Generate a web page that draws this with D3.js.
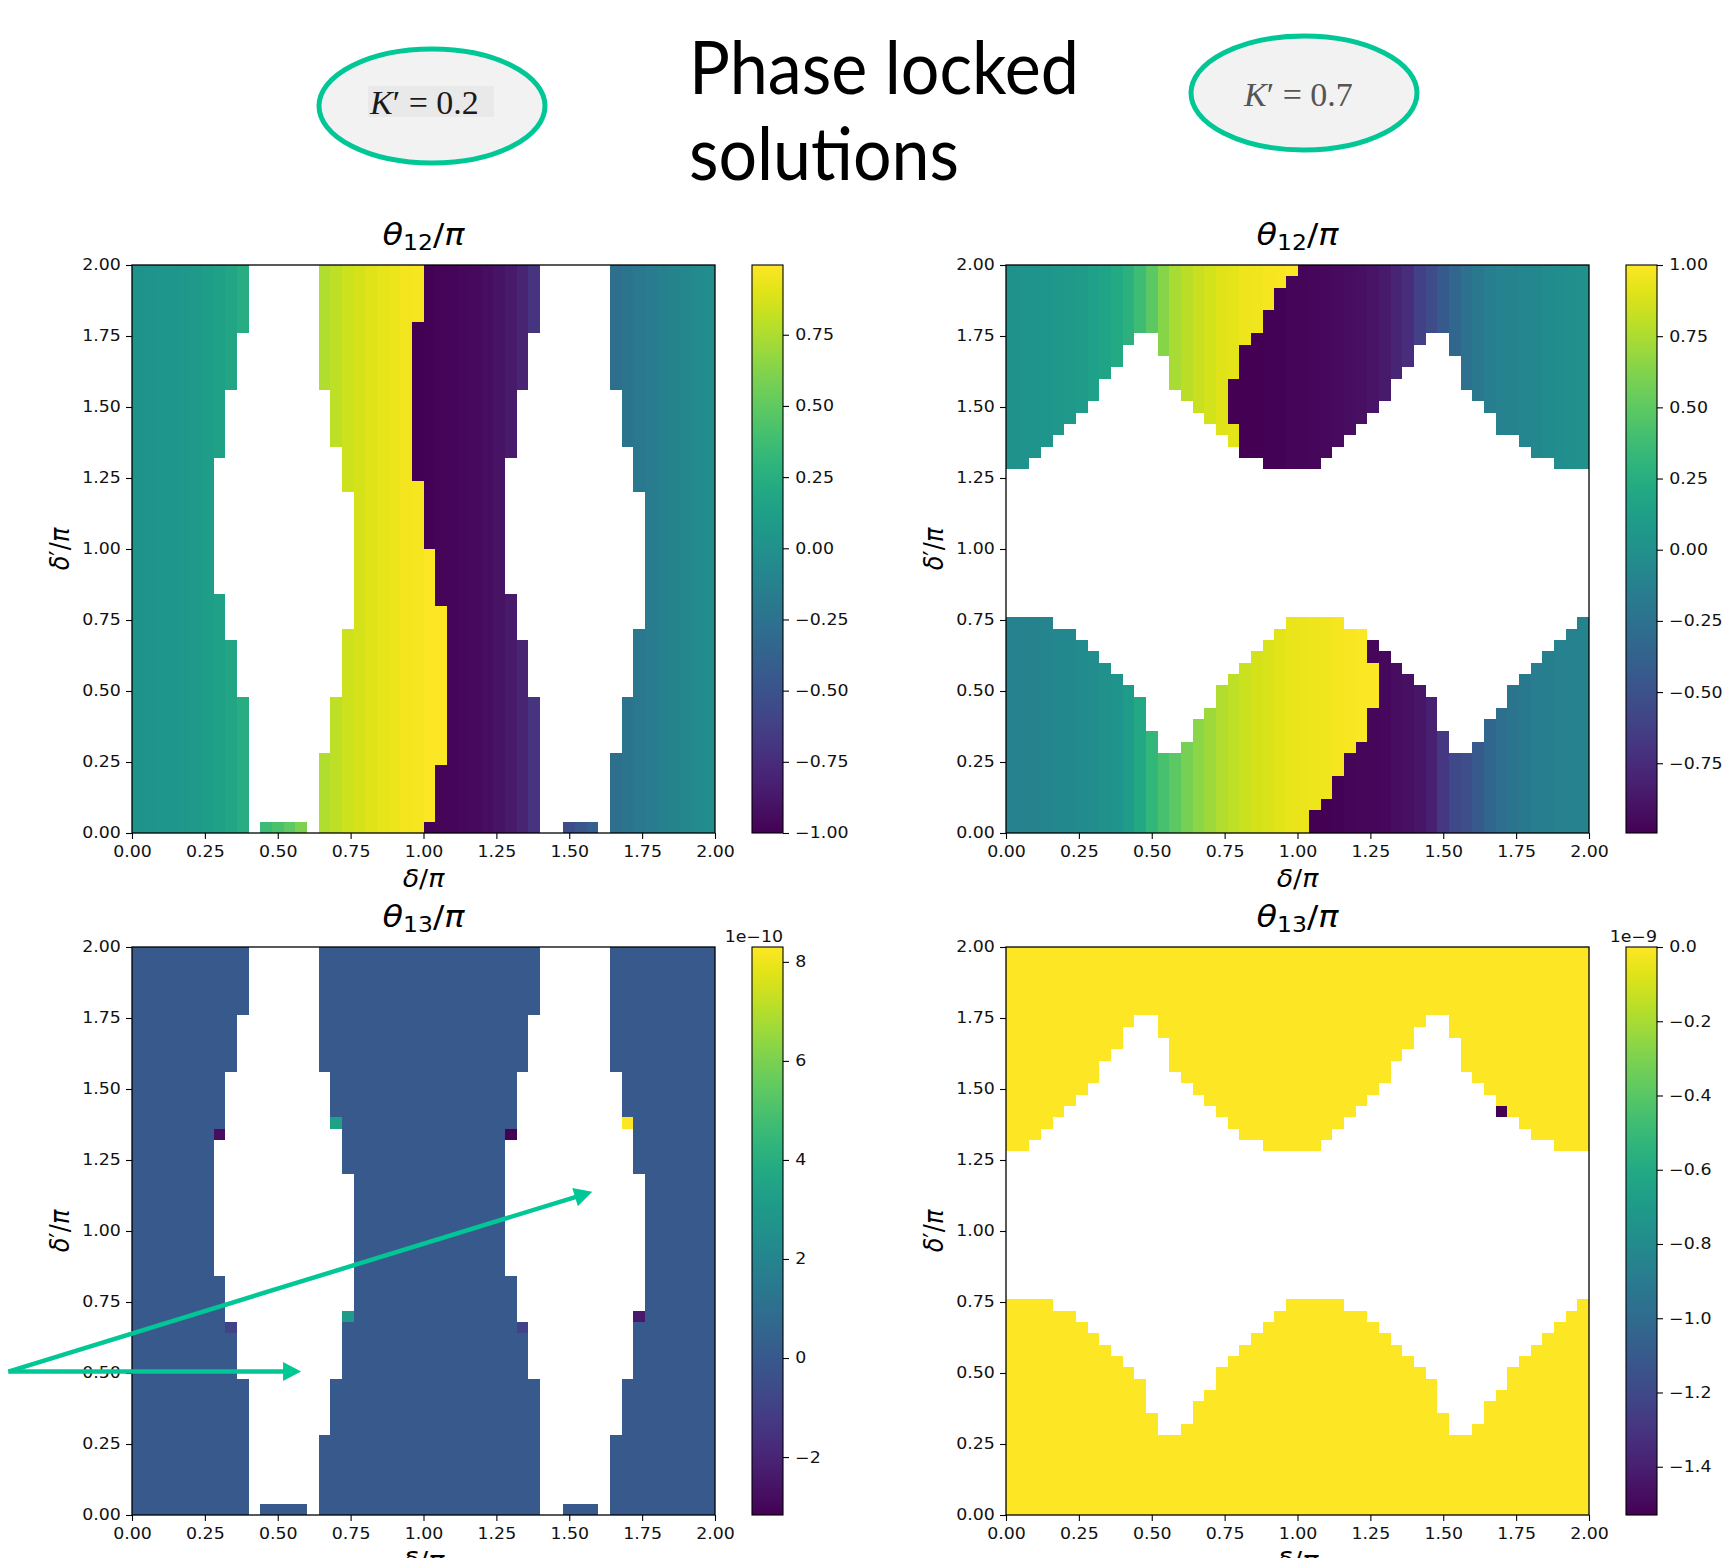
<!DOCTYPE html>
<html>
<head>
<meta charset="utf-8">
<script src="https://cdn.jsdelivr.net/npm/d3@7"></script>
<style>
  html, body { margin: 0; padding: 0; background: #fff; }
  svg { display: block; }
</style>
</head>
<body>
<svg id="chart" width="1730" height="1558"></svg>
<script>
const _ = null;
const N = 50;        // cells per axis
const CELL = 0.04;   // grid step in δ/π and δ'/π

const deltaTicks = [0, 0.25, 0.5, 0.75, 1, 1.25, 1.5, 1.75, 2];

// ---- K' = 0.2 : no-solution (white) column spans, [firstRow, lastRow, [[c0, c1), ...]]
const gapsK02 = [
  [0, 0, [[10, 11], [15, 16], [35, 37], [40, 41]]],
  [1, 6, [[10, 16], [35, 41]]],
  [7, 11, [[10, 17], [35, 42]]],
  [12, 16, [[9, 18], [34, 43]]],
  [17, 17, [[8, 18], [33, 43]]],
  [18, 20, [[8, 19], [33, 44]]],
  [21, 29, [[7, 19], [32, 44]]],
  [30, 32, [[7, 18], [32, 43]]],
  [33, 33, [[8, 18], [33, 43]]],
  [34, 38, [[8, 17], [33, 42]]],
  [39, 43, [[9, 16], [34, 41]]],
  [44, 49, [[10, 16], [35, 41]]],
];
// first column past the +1/-1 wrap, per row
const wrapK02 = [25, 26, 26, 26, 26, 26, 27, 27, 27, 27, 27, 27, 27, 27, 27, 27, 27, 27, 27, 27,
  26, 26, 26, 26, 26, 25, 25, 25, 25, 25, 25, 24, 24, 24, 24, 24, 24, 24, 24, 24,
  24, 24, 24, 24, 24, 25, 25, 25, 25, 25];
// θ12/π per column, before and after the wrap
const th12K02Warm = [0.02, 0.03, 0.04, 0.05, 0.06, 0.08, 0.10, 0.13, 0.17, 0.24,
  _, 0.36, 0.42, 0.50, 0.60, _, 0.76, 0.80, 0.84, 0.87,
  0.90, 0.92, 0.94, 0.96, 0.97, 0.98, 0.99, _, _, _,
  _, _, _, _, _, _, _, _, _, _,
  _, _, _, _, _, _, _, _, _, _];
const th12K02Cool = [_, _, _, _, _, _, _, _, _, _,
  _, _, _, _, _, _, _, _, _, _,
  _, _, _, _, -1.00, -0.99, -0.98, -0.97, -0.96, -0.95,
  -0.93, -0.90, -0.86, -0.80, -0.70, _, _, -0.54, -0.46, -0.40,
  _, -0.28, -0.24, -0.20, -0.17, -0.14, -0.11, -0.08, -0.05, -0.02];
// θ13/π (×1e-10): flat value plus a few odd cells [col, row, value]
const th13K02Base = 0.0;
const th13K02Odd = [[7, 33, -2.8], [17, 34, 3.4], [32, 33, -3.17], [42, 34, 8.3],
  [8, 16, -0.9], [18, 17, 3.1], [33, 16, -0.9], [43, 17, -2.4]];

// ---- K' = 0.7 : rows with solutions per column (lower lobe 0..n-1, upper lobe from m)
const lowRowsK07 = [19, 19, 19, 19, 18, 18, 17, 16, 15, 14, 13, 12, 9, 7, 7, 8, 10, 11, 13, 14,
  15, 16, 17, 18, 19, 19, 19, 19, 19, 18, 18, 17, 16, 15, 14, 13, 12, 9, 7, 7,
  8, 10, 11, 13, 14, 15, 16, 17, 18, 19];
const upFirstRowK07 = [32, 32, 33, 34, 35, 36, 37, 38, 40, 41, 43, 44, 44, 42, 39, 38, 37, 36, 35, 34,
  33, 33, 32, 32, 32, 32, 32, 33, 34, 35, 36, 37, 38, 40, 41, 43, 44, 44, 42, 39,
  38, 37, 35, 35, 34, 33, 33, 32, 32, 32];
const wrapK07 = [26, 26, 27, 28, 28, 29, 29, 30, 31, 31, 31, 32, 32, 32, 32, 31, 31, 31, 31, _,
  _, _, _, _, _, _, _, _, _, _, _, _, 20, 20, 20, 20, 19, 19, 19, 19,
  20, 20, 20, 21, 22, 22, 23, 23, 24, 25];
const th12K07UpWarm = [0.02, 0.03, 0.04, 0.05, 0.06, 0.08, 0.10, 0.13, 0.17, 0.22,
  0.28, 0.38, 0.50, 0.64, 0.74, 0.79, 0.83, 0.86, 0.90, 0.92,
  0.95, 0.96, 0.97, 0.98, 0.99, _, _, _, _, _,
  _, _, _, _, _, _, _, _, _, _,
  _, _, _, _, _, _, _, _, _, _];
const th12K07UpCool = [_, _, _, _, _, _, _, _, _, _,
  _, _, _, _, _, _, _, _, _, -0.99,
  -0.99, -0.99, -0.98, -0.98, -0.97, -0.97, -0.96, -0.95, -0.94, -0.93,
  -0.91, -0.89, -0.86, -0.80, -0.74, -0.62, -0.54, -0.44, -0.34, -0.26,
  -0.20, -0.15, -0.12, -0.10, -0.08, -0.06, -0.04, -0.02, 0.00, 0.01];
const th12K07LowWarm = [-0.12, -0.11, -0.10, -0.09, -0.08, -0.06, -0.04, -0.02, 0.01, 0.04,
  0.10, 0.20, 0.32, 0.42, 0.50, 0.58, 0.65, 0.71, 0.76, 0.80,
  0.84, 0.87, 0.89, 0.91, 0.93, 0.94, 0.95, 0.96, 0.97, 0.98,
  0.99, 0.995, _, _, _, _, _, _, _, _,
  _, _, _, _, _, _, _, _, _, _];
const th12K07LowCool = [_, _, _, _, _, _, _, _, _, _,
  _, _, _, _, _, _, _, _, _, _,
  _, _, _, _, _, _, -0.99, -0.99, -0.98, -0.97,
  -0.96, -0.96, -0.95, -0.93, -0.91, -0.88, -0.82, -0.68, -0.56, -0.52,
  -0.44, -0.34, -0.28, -0.23, -0.19, -0.16, -0.14, -0.12, -0.11, -0.10];
// θ13/π (×1e-9)
const th13K07Base = 0.0;
const th13K07Odd = [[42, 35, -1.53]];

// colour limits and colourbar ticks
const rangeTh12K02 = [-1.0, 0.995];
const rangeTh12K07 = [-0.995, 1.0];
const rangeTh13K02 = [-3.17, 8.3];
const rangeTh13K07 = [-1.53, 0.0];
const cbTicksTh12K02 = [-1, -0.75, -0.5, -0.25, 0, 0.25, 0.5, 0.75];
const cbTicksTh12K07 = [-0.75, -0.5, -0.25, 0, 0.25, 0.5, 0.75, 1];
const cbTicksTh13K02 = [-2, 0, 2, 4, 6, 8];
const cbTicksTh13K07 = [-1.4, -1.2, -1, -0.8, -0.6, -0.4, -0.2, 0];

// ---------------------------------------------------------------
function cellsK02(valueAt) {
  const out = [];
  for (let r = 0; r < N; r++) {
    const gaps = gapsK02.find(g => r >= g[0] && r <= g[1])[2];
    for (let c = 0; c < N; c++) {
      if (gaps.some(([a, b]) => c >= a && c < b)) continue;
      const v = valueAt(r, c);
      if (v != null) out.push({ r, c, v });
    }
  }
  return out;
}

function cellsK07(valueAt) {
  const out = [];
  for (let r = 0; r < N; r++) {
    for (let c = 0; c < N; c++) {
      if (r >= lowRowsK07[c] && r < upFirstRowK07[c]) continue;
      const v = valueAt(r, c);
      if (v != null) out.push({ r, c, v });
    }
  }
  return out;
}

const oddValue = (list, base) => (r, c) => {
  const hit = list.find(d => d[0] === c && d[1] === r);
  return hit ? hit[2] : base;
};

const W = 583, H = 568, SX = 1.12;
const fmt2 = d3.format('.2f');
const panels = [
  {
    left: 132, top: 265, sub: '12', range: rangeTh12K02, cbTicks: cbTicksTh12K02, cbFormat: fmt2,
    cells: cellsK02((r, c) => c < wrapK02[r] ? th12K02Warm[c] : th12K02Cool[c]),
  },
  {
    left: 1006, top: 265, sub: '12', range: rangeTh12K07, cbTicks: cbTicksTh12K07, cbFormat: fmt2,
    cells: cellsK07((r, c) => {
      const up = r >= 25;
      const warm = up ? th12K07UpWarm : th12K07LowWarm;
      const cool = up ? th12K07UpCool : th12K07LowCool;
      return c < wrapK07[r] ? warm[c] : cool[c];
    }),
  },
  {
    left: 132, top: 947, sub: '13', range: rangeTh13K02, cbTicks: cbTicksTh13K02, cbFormat: d3.format('d'),
    offset: '1e\u221210', cells: cellsK02(oddValue(th13K02Odd, th13K02Base)),
  },
  {
    left: 1006, top: 947, sub: '13', range: rangeTh13K07, cbTicks: cbTicksTh13K07, cbFormat: d3.format('.1f'),
    offset: '1e\u22129', cells: cellsK07(oddValue(th13K07Odd, th13K07Base)),
  },
];

const svg = d3.select('#chart');
svg.append('rect').attr('width', 1730).attr('height', 1558).attr('fill', '#fff');

const grad = svg.append('defs').append('linearGradient')
  .attr('id', 'viridis').attr('x1', 0).attr('y1', 1).attr('x2', 0).attr('y2', 0);
grad.selectAll('stop').data(d3.range(0, 1.0001, 0.05)).join('stop')
  .attr('offset', t => t).attr('stop-color', t => d3.interpolateViridis(t));

function mathText(parent, parts, size, transform) {
  const t = parent.append('text').attr('transform', transform)
    .attr('text-anchor', 'middle').attr('font-family', "'DejaVu Sans', sans-serif")
    .attr('font-size', size).attr('fill', '#000');
  let shift = 0;
  parts.forEach(([s, kind]) => {
    const ts = t.append('tspan').text(s);
    if (kind === 'i') ts.attr('font-style', 'italic');
    if (kind === 's') {
      shift = size * 0.16;
      ts.attr('font-size', size * 0.7).attr('dy', shift);
    } else if (shift) {
      ts.attr('dy', -shift);
      shift = 0;
    }
  });
}

function styleAxis(g) {
  g.attr('font-size', 15.5).attr('font-family', "'DejaVu Sans', sans-serif");
  g.select('.domain').remove();
  g.selectAll('.tick line').attr('stroke', '#000').attr('stroke-width', 1.1);
  g.selectAll('.tick text').attr('fill', '#111').attr('transform', `scale(${SX},1)`);
}

function drawPanel(p) {
  const g = svg.append('g');
  const x = d3.scaleLinear([0, 2], [p.left, p.left + W]);
  const y = d3.scaleLinear([0, 2], [p.top + H, p.top]);
  const color = d3.scaleSequential(d3.interpolateViridis).domain(p.range);
  const px = c => Math.round(x(c * CELL));
  const py = r => Math.round(y(r * CELL));

  g.append('g').selectAll('rect').data(p.cells).join('rect')
    .attr('x', d => px(d.c))
    .attr('y', d => py(d.r + 1))
    .attr('width', d => px(d.c + 1) - px(d.c))
    .attr('height', d => py(d.r) - py(d.r + 1))
    .attr('fill', d => color(d.v))
    .attr('shape-rendering', 'crispEdges');

  g.append('rect').attr('x', p.left).attr('y', p.top).attr('width', W).attr('height', H)
    .attr('fill', 'none').attr('stroke', '#000').attr('stroke-width', 1.3);

  g.append('g').attr('transform', `translate(0,${p.top + H})`)
    .call(d3.axisBottom(x).tickValues(deltaTicks).tickFormat(fmt2).tickSize(6).tickPadding(7))
    .call(styleAxis);
  g.append('g').attr('transform', `translate(${p.left},0)`)
    .call(d3.axisLeft(y).tickValues(deltaTicks).tickFormat(fmt2).tickSize(6).tickPadding(4))
    .call(styleAxis);

  // colourbar
  const cbX = p.left + W + 37, cbW = 31;
  const cb = d3.scaleLinear(p.range, [p.top + H, p.top]);
  g.append('rect').attr('x', cbX).attr('y', p.top).attr('width', cbW).attr('height', H)
    .attr('fill', 'url(#viridis)').attr('stroke', '#000').attr('stroke-width', 1.1);
  g.append('g').attr('transform', `translate(${cbX + cbW},0)`)
    .call(d3.axisRight(cb).tickValues(p.cbTicks).tickFormat(p.cbFormat).tickSize(6).tickPadding(5))
    .call(styleAxis);
  if (p.offset) {
    g.append('text').attr('transform', `translate(${cbX + cbW},${p.top - 5}) scale(${SX},1)`)
      .attr('text-anchor', 'end').attr('font-family', "'DejaVu Sans', sans-serif")
      .attr('font-size', 15.5).attr('fill', '#111').text(p.offset);
  }

  const cx = p.left + W / 2;
  mathText(g, [['θ', 'i'], [p.sub, 's'], ['/', ''], ['π', 'i']], 30,
    `translate(${cx},${p.top - 20}) scale(${SX},1)`);
  mathText(g, [['δ', 'i'], ['/', ''], ['π', 'i']], 24,
    `translate(${cx},${p.top + H + 54}) scale(${SX},1)`);
  mathText(g, [['δ', 'i'], ['′', ''], ['/', ''], ['π', 'i']], 24,
    `translate(${p.left - 63},${p.top + H / 2}) scale(${SX},1) rotate(-90)`);
  return { x, y };
}

const scales = panels.map(drawPanel);

// ---- header
svg.append('text').attr('x', 689).attr('y', 94)
  .attr('font-family', "Lato, 'Open Sans', sans-serif").attr('font-size', 74)
  .attr('textLength', 390).attr('lengthAdjust', 'spacingAndGlyphs').text('Phase locked');
svg.append('text').attr('x', 689).attr('y', 180)
  .attr('font-family', "Lato, 'Open Sans', sans-serif").attr('font-size', 74)
  .attr('textLength', 270).attr('lengthAdjust', 'spacingAndGlyphs').text('solutions');

const badges = [
  { cx: 432, cy: 106, label: '0.2', tx: 370, ty: 114, ink: '#1a1a1a', box: true },
  { cx: 1304, cy: 93, label: '0.7', tx: 1244, ty: 106, ink: '#555', box: false },
];
badges.forEach(b => {
  svg.append('ellipse').attr('cx', b.cx).attr('cy', b.cy).attr('rx', 113).attr('ry', 57)
    .attr('fill', '#f2f2f2').attr('stroke', '#00c795').attr('stroke-width', 5);
  if (b.box) {
    svg.append('rect').attr('x', b.tx - 2).attr('y', b.ty - 28).attr('width', 126).attr('height', 31)
      .attr('fill', '#e9e9e9');
  }
  const t = svg.append('text').attr('x', b.tx).attr('y', b.ty)
    .attr('font-family', "'Liberation Serif', 'DejaVu Serif', serif").attr('font-size', 34)
    .attr('fill', b.ink);
  t.append('tspan').attr('font-style', 'italic').text('K');
  t.append('tspan').text('\u2032 = ' + b.label);
});

// ---- arrows on the lower-left panel (data coordinates)
const arrowFrom = [-0.424, 0.505];
const arrowTips = [[0.58, 0.505], [1.579, 1.138]];
const { x: ax, y: ay } = scales[2];
const arrows = svg.append('g');
arrowTips.forEach(tip => {
  const x0 = ax(arrowFrom[0]), y0 = ay(arrowFrom[1]);
  const x1 = ax(tip[0]), y1 = ay(tip[1]);
  const len = Math.hypot(x1 - x0, y1 - y0);
  const ux = (x1 - x0) / len, uy = (y1 - y0) / len;
  const L = 18, hw = 9.5;
  arrows.append('line').attr('x1', x0).attr('y1', y0)
    .attr('x2', x1 - ux * L * 0.8).attr('y2', y1 - uy * L * 0.8)
    .attr('stroke', '#00c795').attr('stroke-width', 4.5);
  const bx = x1 - ux * L, by = y1 - uy * L;
  arrows.append('polygon')
    .attr('points', [[x1, y1], [bx - uy * hw, by + ux * hw], [bx + uy * hw, by - ux * hw]].map(p => p.join(',')).join(' '))
    .attr('fill', '#00c795');
});
</script>
</body>
</html>
